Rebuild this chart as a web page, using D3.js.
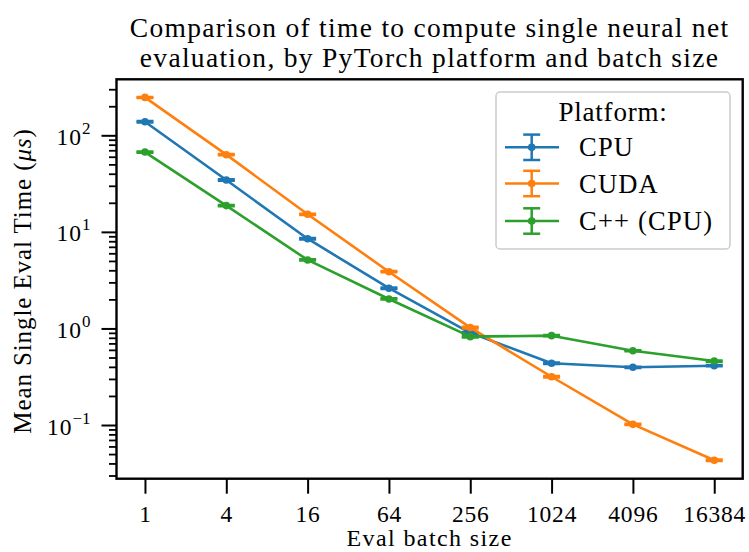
<!DOCTYPE html>
<html>
<head>
<meta charset="utf-8">
<script src="https://cdn.jsdelivr.net/npm/d3@7"></script>
<style>
  html, body { margin: 0; padding: 0; background: #fff; }
  svg { display: block; }
  text { font-family: "Liberation Serif", "Times New Roman", serif; fill: #000; }
</style>
</head>
<body>
<svg id="chart" width="749" height="552"></svg>
<script>
// ---- Data ----
const batchSizes = [1, 4, 16, 64, 256, 1024, 4096, 16384];
const seriesNames = ["CPU", "CUDA", "C++ (CPU)"];
const cpuTime  = [138, 34.4, 8.5, 2.61, 0.90, 0.436, 0.396, 0.411];
const cudaTime = [247, 63, 15.2, 3.87, 1.02, 0.316, 0.1016, 0.0432];
const cppTime  = [67.1, 18.7, 5.12, 2.02, 0.822, 0.842, 0.588, 0.46];
const cpuErr   = [2.5, 0.6, 0.15, 0.05, 0.02, 0.008, 0.006, 0.006];
const cudaErr  = [3.0, 1.0, 0.25, 0.06, 0.02, 0.005, 0.0015, 0.0007];
const cppErr   = [1.0, 0.3, 0.08, 0.03, 0.015, 0.012, 0.008, 0.007];
const xTickLabels = ["1", "4", "16", "64", "256", "1024", "4096", "16384"];
const yTickExponents = [-1, 0, 1, 2];
const colors = ["#1f77b4", "#ff7f0e", "#2ca02c"];

const titleLines = ["Comparison of time to compute single neural net",
                    "evaluation, by PyTorch platform and batch size"];
const xLabel = "Eval batch size";
const legendTitle = "Platform:";

const series = [
  { name: seriesNames[0], values: cpuTime,  errs: cpuErr,  color: colors[0] },
  { name: seriesNames[1], values: cudaTime, errs: cudaErr, color: colors[1] },
  { name: seriesNames[2], values: cppTime,  errs: cppErr,  color: colors[2] }
];

// ---- Layout ----
const svg = d3.select("#chart");
const plot = { left: 116.5, right: 742.7, top: 79.3, bottom: 478.7 };

const x = d3.scaleLog().base(2)
  .domain([Math.pow(2, -0.7), Math.pow(2, 14.7)])
  .range([plot.left, plot.right]);
const y = d3.scaleLog().base(10)
  .domain([Math.pow(10, -1.556), Math.pow(10, 2.58)])
  .range([plot.bottom, plot.top]);

svg.append("defs").append("clipPath").attr("id", "clip")
  .append("rect").attr("x", plot.left).attr("y", plot.top)
  .attr("width", plot.right - plot.left).attr("height", plot.bottom - plot.top);

// ---- Series ----
const g = svg.append("g").attr("clip-path", "url(#clip)");
const line = d3.line().x((d, i) => x(batchSizes[i])).y(d => y(d));
const capHalf = 8.5;

series.forEach(s => {
  const sg = g.append("g");
  s.values.forEach((v, i) => {
    const cx = x(batchSizes[i]);
    const y1 = y(v - s.errs[i]), y2 = y(v + s.errs[i]);
    sg.append("line").attr("x1", cx).attr("x2", cx).attr("y1", y1).attr("y2", y2)
      .attr("stroke", s.color).attr("stroke-width", 2.5);
    [y1, y2].forEach(yy => sg.append("line")
      .attr("x1", cx - capHalf).attr("x2", cx + capHalf).attr("y1", yy).attr("y2", yy)
      .attr("stroke", s.color).attr("stroke-width", 2.5));
  });
  sg.append("path").datum(s.values).attr("d", line)
    .attr("fill", "none").attr("stroke", s.color).attr("stroke-width", 2.6)
    .attr("stroke-linejoin", "round");
  sg.selectAll("circle").data(s.values).join("circle")
    .attr("cx", (d, i) => x(batchSizes[i])).attr("cy", d => y(d))
    .attr("r", 3.8).attr("fill", s.color);
});

// ---- Axes ----
const tickFont = 23.5;
const xAxis = svg.append("g").attr("transform", `translate(0,${plot.bottom})`)
  .call(d3.axisBottom(x).tickValues(batchSizes).tickFormat((d, i) => xTickLabels[i])
        .tickSize(15).tickPadding(8));
xAxis.select(".domain").remove();
xAxis.selectAll(".tick line").attr("stroke", "#000").attr("stroke-width", 2);
xAxis.selectAll(".tick text").attr("font-size", tickFont).attr("letter-spacing", 0.8)
  .attr("font-family", "Liberation Serif, serif").attr("dy", "0.85em");

const yMinor = [];
for (let e = -2; e <= 2; e++) for (let m = 2; m <= 9; m++) {
  const v = m * Math.pow(10, e);
  if (v >= y.domain()[0] && v <= y.domain()[1]) yMinor.push(v);
}
const yAxisMinor = svg.append("g").attr("transform", `translate(${plot.left},0)`)
  .call(d3.axisLeft(y).tickValues(yMinor).tickFormat("").tickSize(7.5));
yAxisMinor.select(".domain").remove();
yAxisMinor.selectAll(".tick line").attr("stroke", "#000").attr("stroke-width", 1.8);

const yMajor = yTickExponents.map(e => Math.pow(10, e));
const yAxis = svg.append("g").attr("transform", `translate(${plot.left},0)`)
  .call(d3.axisLeft(y).tickValues(yMajor).tickFormat("").tickSize(15));
yAxis.select(".domain").remove();
yAxis.selectAll(".tick line").attr("stroke", "#000").attr("stroke-width", 2);
yAxis.selectAll(".tick").each(function(d, i) {
  const t = d3.select(this).append("text")
    .attr("x", -26).attr("y", 9).attr("text-anchor", "end")
    .attr("font-size", tickFont);
  t.append("tspan").attr("letter-spacing", 1).text("10");
  t.append("tspan").attr("dy", -11).attr("font-size", 17)
    .text(yTickExponents[i] < 0 ? "\u2212" + Math.abs(yTickExponents[i]) : String(yTickExponents[i]));
});

svg.append("rect").attr("x", plot.left).attr("y", plot.top)
  .attr("width", plot.right - plot.left).attr("height", plot.bottom - plot.top)
  .attr("fill", "none").attr("stroke", "#000").attr("stroke-width", 2.4);

// ---- Labels ----
svg.append("text").attr("x", (plot.left + plot.right) / 2).attr("y", 546)
  .attr("text-anchor", "middle").attr("font-size", 24).attr("letter-spacing", 1.4).text(xLabel);

const yl = svg.append("text")
  .attr("transform", `translate(31,${(plot.top + plot.bottom) / 2 + 2}) rotate(-90)`)
  .attr("text-anchor", "middle").attr("font-size", 25).attr("letter-spacing", 0.9);
yl.append("tspan").text("Mean Single Eval Time (");
yl.append("tspan").attr("font-style", "italic").text("\u03BCs");
yl.append("tspan").text(")");

titleLines.forEach((l, i) => svg.append("text")
  .attr("text-anchor", "middle").attr("font-size", 27.5).attr("letter-spacing", 1.3)
  .attr("x", (plot.left + plot.right) / 2).attr("y", 36.5 + i * 30.5).text(l));

// ---- Legend ----
const lg = svg.append("g");
lg.append("rect").attr("x", 496).attr("y", 92).attr("width", 234).attr("height", 157)
  .attr("rx", 4).attr("fill", "#fff").attr("fill-opacity", 0.8)
  .attr("stroke", "#cccccc").attr("stroke-width", 1.5);
lg.append("text").attr("x", 613).attr("y", 121).attr("text-anchor", "middle")
  .attr("font-size", 27).attr("letter-spacing", 0.8).text(legendTitle);
const legendY = [147.3, 183.5, 221];
series.forEach((s, i) => {
  const ly = legendY[i];
  const hx = 531.7;
  lg.append("line").attr("x1", 505).attr("x2", 559).attr("y1", ly).attr("y2", ly)
    .attr("stroke", s.color).attr("stroke-width", 2.6);
  lg.append("line").attr("x1", hx).attr("x2", hx).attr("y1", ly - 12.7).attr("y2", ly + 12.7)
    .attr("stroke", s.color).attr("stroke-width", 2.5);
  [ly - 12.7, ly + 12.7].forEach(yy => lg.append("line")
    .attr("x1", hx - capHalf).attr("x2", hx + capHalf).attr("y1", yy).attr("y2", yy)
    .attr("stroke", s.color).attr("stroke-width", 2.5));
  lg.append("circle").attr("cx", hx).attr("cy", ly).attr("r", 3.8).attr("fill", s.color);
  lg.append("text").attr("x", 579).attr("y", ly + 9).attr("font-size", 26.5)
    .attr("letter-spacing", 1.2).text(s.name);
});
</script>
</body>
</html>
